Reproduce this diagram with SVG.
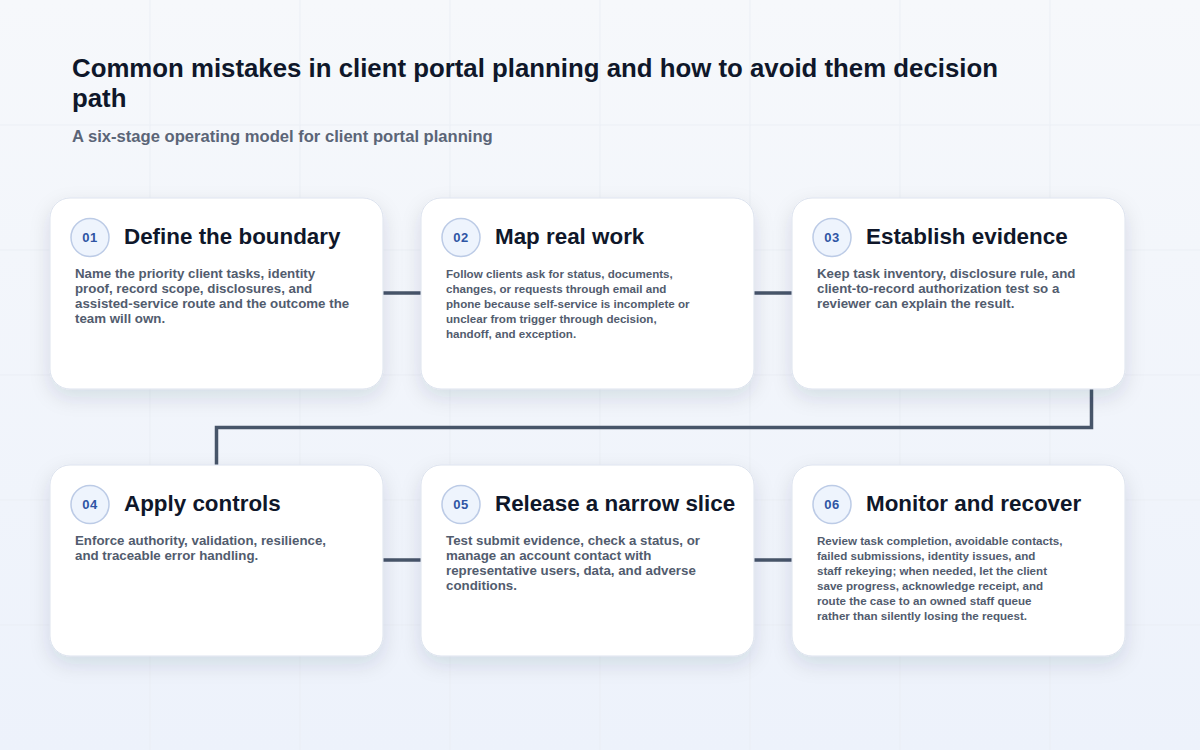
<svg xmlns="http://www.w3.org/2000/svg" width="1200" height="750" viewBox="0 0 1200 750">
  <defs>
    <linearGradient id="bg" x1="0" y1="0" x2="0" y2="1">
      <stop offset="0" stop-color="#f6f8fb"/>
      <stop offset="1" stop-color="#edf2fb"/>
    </linearGradient>
    <filter id="shadow" x="-20%" y="-20%" width="140%" height="150%">
      <feDropShadow dx="0" dy="8" stdDeviation="10" flood-color="#1e2a50" flood-opacity="0.12"/>
    </filter>
    <style>
      .card { fill: #ffffff; stroke: #dde3ee; stroke-width: 1; filter: url(#shadow); }
      .badge { fill: #eef4fd; stroke: #bccbe6; stroke-width: 1.5; }
      .num { font-family: "Liberation Sans", Arial, sans-serif; font-weight: 700; font-size: 13px; fill: #2f55a4; text-anchor: middle; letter-spacing: 0.5px; }
      .title { font-family: "Liberation Sans", Arial, sans-serif; font-weight: 700; font-size: 22.4px; fill: #0f172a; }
      .body { font-family: "Liberation Sans", Arial, sans-serif; font-weight: 700; font-size: 13.3px; fill: #525c6e; }
      .body.sm { font-size: 11.6px; }
      .grid { stroke: #e9edf4; stroke-width: 1; }
      .conn { fill: none; stroke: #475569; stroke-width: 3.5; }
    </style>
  </defs>
  <rect width="1200" height="750" fill="url(#bg)"/>
  <g id="grid" opacity="0.8">
    <line class="grid" x1="150" y1="0" x2="150" y2="750"/>
    <line class="grid" x1="300" y1="0" x2="300" y2="750"/>
    <line class="grid" x1="450" y1="0" x2="450" y2="750"/>
    <line class="grid" x1="600" y1="0" x2="600" y2="750"/>
    <line class="grid" x1="750" y1="0" x2="750" y2="750"/>
    <line class="grid" x1="900" y1="0" x2="900" y2="750"/>
    <line class="grid" x1="1050" y1="0" x2="1050" y2="750"/>
    <line class="grid" x1="0" y1="125" x2="1200" y2="125"/>
    <line class="grid" x1="0" y1="250" x2="1200" y2="250"/>
    <line class="grid" x1="0" y1="375" x2="1200" y2="375"/>
    <line class="grid" x1="0" y1="500" x2="1200" y2="500"/>
    <line class="grid" x1="0" y1="625" x2="1200" y2="625"/>
  </g>
  <g id="header">
    <text x="72" y="77" font-family="Liberation Sans, Arial, sans-serif" font-weight="700" font-size="25.8" fill="#0f172a">Common mistakes in client portal planning and how to avoid them decision</text>
    <text x="72" y="107" font-family="Liberation Sans, Arial, sans-serif" font-weight="700" font-size="25.8" fill="#0f172a">path</text>
    <text x="72" y="142" font-family="Liberation Sans, Arial, sans-serif" font-weight="700" font-size="16.6" fill="#5b6577">A six-stage operating model for client portal planning</text>
  </g>
  <g id="connectors">
    <line class="conn" x1="383" y1="293" x2="421" y2="293"/>
    <line class="conn" x1="753" y1="293" x2="792" y2="293"/>
    <path class="conn" d="M1091.500 389 V427.500 H216.500 V465"/>
    <line class="conn" x1="383" y1="560" x2="421" y2="560"/>
    <line class="conn" x1="753" y1="560" x2="792" y2="560"/>
  </g>
  <g id="node-01">
    <rect class="card" x="50" y="198" width="333" height="191" rx="20"/>
    <circle class="badge" cx="90" cy="237.500" r="19"/>
    <text class="num" x="90" y="242">01</text>
    <text class="title" x="124" y="244">Define the boundary</text>
    <text class="body" x="75" y="278">Name the priority client tasks, identity</text>
    <text class="body" x="75" y="293">proof, record scope, disclosures, and</text>
    <text class="body" x="75" y="308">assisted-service route and the outcome the</text>
    <text class="body" x="75" y="323">team will own.</text>
  </g>
  <g id="node-02">
    <rect class="card" x="421" y="198" width="333" height="191" rx="20"/>
    <circle class="badge" cx="461" cy="237.500" r="19"/>
    <text class="num" x="461" y="242">02</text>
    <text class="title" x="495" y="244">Map real work</text>
    <text class="body sm" x="446" y="278">Follow clients ask for status, documents,</text>
    <text class="body sm" x="446" y="293">changes, or requests through email and</text>
    <text class="body sm" x="446" y="308">phone because self-service is incomplete or</text>
    <text class="body sm" x="446" y="323">unclear from trigger through decision,</text>
    <text class="body sm" x="446" y="338">handoff, and exception.</text>
  </g>
  <g id="node-03">
    <rect class="card" x="792" y="198" width="333" height="191" rx="20"/>
    <circle class="badge" cx="832" cy="237.500" r="19"/>
    <text class="num" x="832" y="242">03</text>
    <text class="title" x="866" y="244">Establish evidence</text>
    <text class="body" x="817" y="278">Keep task inventory, disclosure rule, and</text>
    <text class="body" x="817" y="293">client-to-record authorization test so a</text>
    <text class="body" x="817" y="308">reviewer can explain the result.</text>
  </g>
  <g id="node-04">
    <rect class="card" x="50" y="465" width="333" height="191" rx="20"/>
    <circle class="badge" cx="90" cy="504.500" r="19"/>
    <text class="num" x="90" y="509">04</text>
    <text class="title" x="124" y="511">Apply controls</text>
    <text class="body" x="75" y="545">Enforce authority, validation, resilience,</text>
    <text class="body" x="75" y="560">and traceable error handling.</text>
  </g>
  <g id="node-05">
    <rect class="card" x="421" y="465" width="333" height="191" rx="20"/>
    <circle class="badge" cx="461" cy="504.500" r="19"/>
    <text class="num" x="461" y="509">05</text>
    <text class="title" x="495" y="511">Release a narrow slice</text>
    <text class="body" x="446" y="545">Test submit evidence, check a status, or</text>
    <text class="body" x="446" y="560">manage an account contact with</text>
    <text class="body" x="446" y="575">representative users, data, and adverse</text>
    <text class="body" x="446" y="590">conditions.</text>
  </g>
  <g id="node-06">
    <rect class="card" x="792" y="465" width="333" height="191" rx="20"/>
    <circle class="badge" cx="832" cy="504.500" r="19"/>
    <text class="num" x="832" y="509">06</text>
    <text class="title" x="866" y="511">Monitor and recover</text>
    <text class="body sm" x="817" y="545">Review task completion, avoidable contacts,</text>
    <text class="body sm" x="817" y="560">failed submissions, identity issues, and</text>
    <text class="body sm" x="817" y="575">staff rekeying; when needed, let the client</text>
    <text class="body sm" x="817" y="590">save progress, acknowledge receipt, and</text>
    <text class="body sm" x="817" y="605">route the case to an owned staff queue</text>
    <text class="body sm" x="817" y="620">rather than silently losing the request.</text>
  </g>
</svg>
